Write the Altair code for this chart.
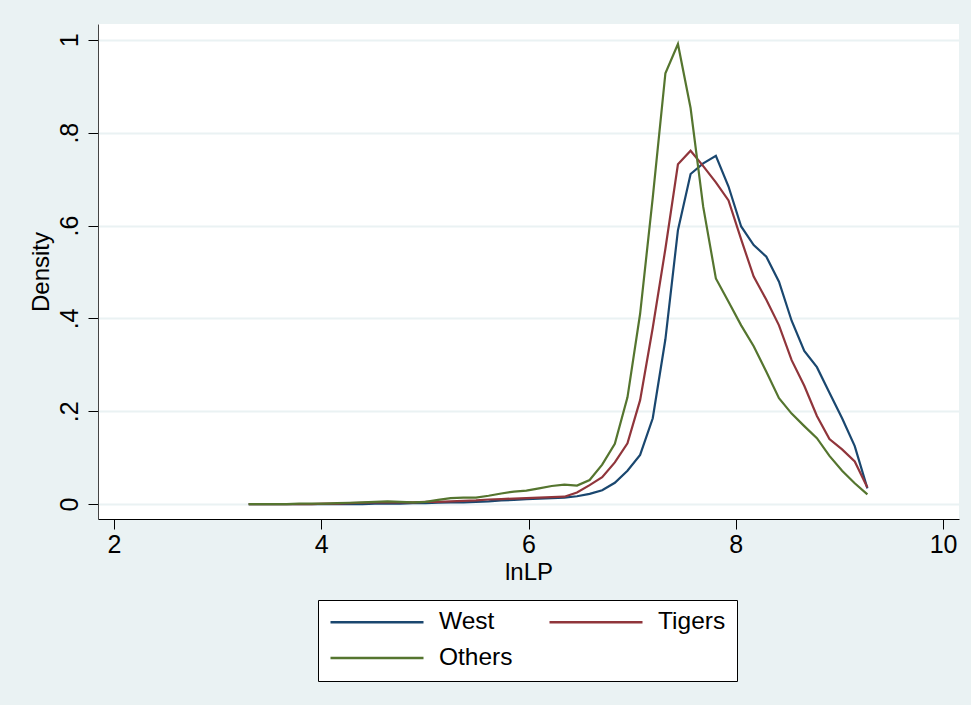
import altair as alt
import pandas as pd

# evaluation grid (lnLP)
x_grid = [3.300, 3.422, 3.544, 3.666, 3.787, 3.909, 4.031, 4.153, 4.275, 4.397,
          4.518, 4.640, 4.762, 4.884, 5.006, 5.128, 5.249, 5.371, 5.493, 5.615,
          5.737, 5.859, 5.980, 6.102, 6.224, 6.346, 6.468, 6.590, 6.711, 6.833,
          6.955, 7.077, 7.199, 7.321, 7.442, 7.564, 7.686, 7.808, 7.930, 8.052,
          8.173, 8.295, 8.417, 8.539, 8.661, 8.783, 8.904, 9.026, 9.148, 9.270]

west = [0, 0, 0, 0, 0, 0, 0, 0, 0, 0,
        0.001, 0.001, 0.001, 0.002, 0.002, 0.003, 0.004, 0.004, 0.005, 0.006,
        0.008, 0.009, 0.011, 0.012, 0.013, 0.014, 0.017, 0.022, 0.030, 0.046,
        0.072, 0.106, 0.185, 0.355, 0.590, 0.711, 0.734, 0.750, 0.684, 0.598,
        0.558, 0.533, 0.479, 0.395, 0.330, 0.295, 0.240, 0.185, 0.125, 0.034]

tigers = [0, 0, 0, 0, 0, 0, 0.001, 0.001, 0.002, 0.003,
          0.004, 0.004, 0.004, 0.004, 0.005, 0.005, 0.006, 0.007, 0.008, 0.010,
          0.011, 0.012, 0.013, 0.014, 0.015, 0.016, 0.025, 0.041, 0.058, 0.090,
          0.131, 0.224, 0.380, 0.550, 0.732, 0.761, 0.728, 0.693, 0.654, 0.570,
          0.490, 0.440, 0.385, 0.310, 0.255, 0.190, 0.140, 0.118, 0.092, 0.036]

others = [0, 0, 0, 0, 0.001, 0.001, 0.001, 0.002, 0.003, 0.004,
          0.005, 0.006, 0.005, 0.004, 0.005, 0.009, 0.013, 0.014, 0.014, 0.018,
          0.023, 0.027, 0.029, 0.034, 0.039, 0.042, 0.040, 0.052, 0.085, 0.130,
          0.230, 0.410, 0.660, 0.928, 0.991, 0.853, 0.640, 0.486, 0.436, 0.385,
          0.340, 0.285, 0.228, 0.195, 0.168, 0.142, 0.104, 0.072, 0.045, 0.021]

groups = ["West", "Tigers", "Others"]
colors = ["#1a476f", "#90353b", "#55752f"]
x_ticks = [2, 4, 6, 8, 10]
y_ticks = [0, 0.2, 0.4, 0.6, 0.8, 1]

rows = []
for g, series in zip(groups, [west, tigers, others]):
    for xv, yv in zip(x_grid, series):
        rows.append({"lnLP": xv, "Density": yv, "group": g})
df = pd.DataFrame(rows)

FONT = "Liberation Sans"
BG = "#EAF2F3"

chart = alt.Chart(df).mark_line(strokeWidth=2.2).encode(
    x=alt.X("lnLP:Q",
            scale=alt.Scale(domain=[1.846, 10.154], nice=False, zero=False),
            axis=alt.Axis(values=x_ticks, title="lnLP", grid=False,
                          tickSize=10, tickColor="#000", domainColor="#000",
                          labelFontSize=25, labelBaseline="alphabetic", labelPadding=23,
                          titleFontSize=24, titleFontWeight="normal",
                          titleBaseline="alphabetic", titleY=60, titleX=430.5,
                          titleAlign="center")),
    y=alt.Y("Density:Q",
            scale=alt.Scale(domain=[-0.032, 1.034], nice=False, zero=False),
            axis=alt.Axis(values=y_ticks, title="Density", grid=True,
                          gridColor=BG, gridWidth=2,
                          tickSize=10, tickColor="#000", domainColor="#444",
                          labelAngle=270, labelAlign="center",
                          labelBaseline="alphabetic", labelPadding=11,
                          labelFontSize=25,
                          labelExpr="datum.value == 0 ? '0' : datum.value == 1 ? '1' : '.' + format(datum.value * 10, 'd')",
                          titleFontSize=24, titleFontWeight="normal",
                          titleAngle=270, titleX=-57, titleY=247.5,
                          titleAlign="center", titleBaseline="middle")),
    color=alt.Color("group:N",
                    scale=alt.Scale(domain=groups, range=colors),
                    legend=alt.Legend(orient="none", legendX=220, legendY=576,
                                      direction="horizontal", columns=2, title=None,
                                      symbolType="stroke", symbolSize=8649,
                                      symbolStrokeWidth=2.5, clipHeight=22,
                                      labelFontSize=24.5, labelOffset=14,
                                      columnPadding=35, rowPadding=11,
                                      padding=11, strokeColor="#000",
                                      fillColor="white", labelColor="#000")),
).properties(
    width=861, height=495,
    autosize=alt.AutoSizeParams(type="none"),
    padding={"left": 98, "top": 24, "right": 12, "bottom": 186},
    background=BG,
).configure_view(
    fill="white", stroke=None
).configure_axis(
    labelFont=FONT, titleFont=FONT, labelColor="#000", titleColor="#000"
).configure_legend(
    labelFont=FONT
)

chart.save("out.html", embed_options={"renderer": "svg", "actions": False})
